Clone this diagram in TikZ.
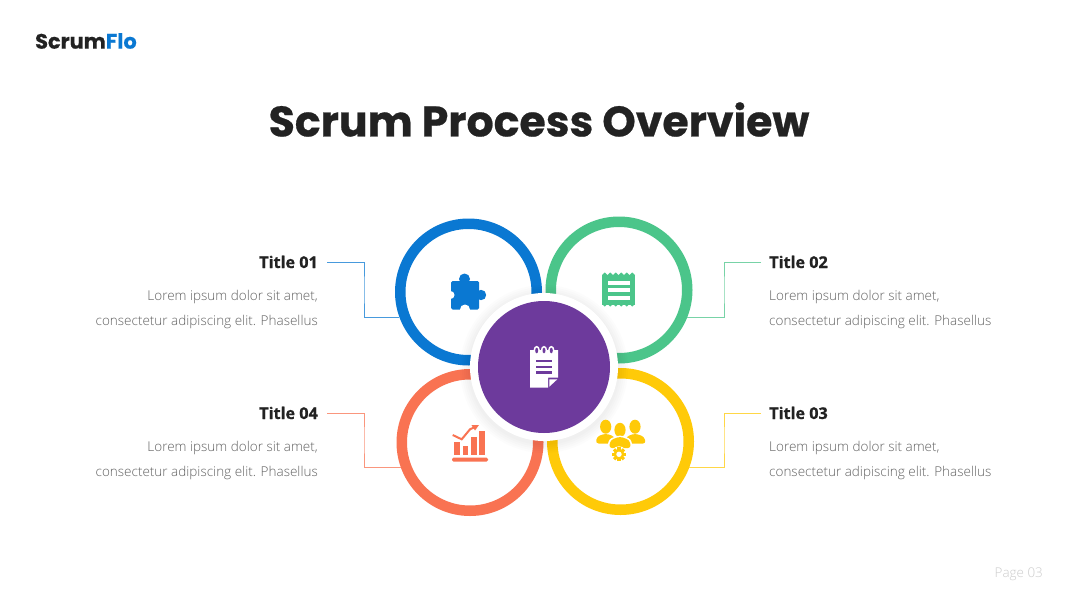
\documentclass[tikz,border=0pt]{standalone}
\usepackage{fontspec}
\setmainfont{Open Sans Light}
\newfontfamily\tfont{Open Sans}[BoldFeatures={FakeBold=0.8}]
\newfontfamily\headfont{Poppins}[BoldFeatures={FakeBold=0.6}]
\usetikzlibrary{positioning}
\definecolor{cblue}{HTML}{0A78D2}
\definecolor{cgreen}{HTML}{4BC58A}
\definecolor{cyellow}{HTML}{FFCA08}
\definecolor{corange}{HTML}{F97352}
\definecolor{cpurple}{HTML}{6D3A9C}
\definecolor{cdark}{HTML}{222222}
\tikzstyle{ring}=[circle,draw,line width=10.5pt,minimum size=136.5pt,inner sep=0pt]
\tikzstyle{link}=[line width=1pt]
\tikzstyle{tlabel}=[font=\tfont\bfseries\fontsize{16.2}{18}\selectfont,text=cdark,inner ysep=0pt,text height=12pt,text depth=0pt]
\tikzstyle{blabel}=[font=\fontsize{13.5}{25}\selectfont,text=black!62,inner sep=0pt]
\begin{document}
\begin{tikzpicture}[x=1pt,y=-1pt]
\useasboundingbox (0,0) rectangle (1080,608);
\fill[white] (0,0) rectangle (1080,608);
\node[font=\headfont\bfseries\fontsize{20.9}{22}\selectfont,text=cdark,anchor=west,inner sep=0pt] (logo) at (35,41) {Scrum\textcolor{cblue}{Flo}};
\node[font=\headfont\bfseries\fontsize{42.6}{48}\selectfont,text=cdark] (head) at (539,119.5) {Scrum Process Overview};
\node[font=\fontsize{13.4}{16}\selectfont,text=black!20,anchor=east,inner sep=0pt] (page) at (1043,574) {Page 03};

\node[ring,draw=cblue] (R1) at (468.5,292) {};
\node[ring,draw=cgreen] (R2) at (619,290) {};
\node[ring,draw=cyellow] (R3) at (620.5,441.5) {};
\node[ring,draw=corange] (R4) at (470,442.5) {};

\node[tlabel,anchor=east,inner xsep=9pt] (T1) at (327,262) {Title 01};
\node[tlabel,anchor=west,inner xsep=8pt] (T2) at (761,262) {Title 02};
\node[tlabel,anchor=west,inner xsep=8pt] (T3) at (761,413) {Title 03};
\node[tlabel,anchor=east,inner xsep=9pt] (T4) at (327,413) {Title 04};
\node[blabel,anchor=east,align=right] (B1) at (318,309) {Lorem ipsum dolor sit amet,\\consectetur adipiscing elit. Phasellus};
\node[blabel,anchor=west,align=left] (B2) at (769,309) {Lorem ipsum dolor sit amet,\\consectetur adipiscing elit. Phasellus};
\node[blabel,anchor=west,align=left] (B3) at (769,460) {Lorem ipsum dolor sit amet,\\consectetur adipiscing elit. Phasellus};
\node[blabel,anchor=east,align=right] (B4) at (318,460) {Lorem ipsum dolor sit amet,\\consectetur adipiscing elit. Phasellus};

\coordinate (E1) at (364,290);
\coordinate (E2) at (724,290);
\coordinate (E3) at (724,440);
\coordinate (E4) at (364,440);
\draw[link,cblue!75] (T1.east) -| (E1) |- (R1.200);
\draw[link,cgreen!75] (T2.west) -| (E2) |- (R2.338);
\draw[link,cyellow!75] (T3.west) -| (E3) |- (R3.339);
\draw[link,corange!75] (T4.east) -| (E4) |- (R4.200);

\foreach \r in {84,82,80,78,76}
  \fill[black,opacity=0.012] (544,369) circle (\r);
\node[circle,fill=white,minimum size=148pt,inner sep=0pt] (Cw) at (544,367) {};
\node[circle,fill=cpurple,minimum size=132pt,inner sep=0pt] (C) at (544,367) {};

% puzzle
\fill[cblue,rounded corners=1.5pt] (451,281) rectangle (479,309.5);
\fill[cblue] (464.5,279) circle (5.5) (481,295) circle (5.2);
\fill[white] (450.5,295) circle (4) (465,309.5) circle (5);

% receipt
\fill[cgreen] (602,274.5) rectangle (635,304.5);
\foreach \i in {0,...,5} {
  \fill[cgreen] (602+5.5*\i,275) -- (604.75+5.5*\i,272.5) -- (607.5+5.5*\i,275) -- cycle;
  \fill[cgreen] (602+5.5*\i,304) -- (604.75+5.5*\i,306.5) -- (607.5+5.5*\i,304) -- cycle;
}
\foreach \y in {281,288,296}
  \fill[white] (608,\y) rectangle (630,\y+4);

% notepad
\fill[white] (530,350) -- (558,350) -- (558,377.5) -- (548,377.5) -- (548,387.5) -- (530,387.5) -- cycle;
\fill[white] (549.3,379.3) -- (557.3,379.3) -- (549.3,386.7) -- cycle;
\foreach \x in {536.7,544,551.3} {
  \fill[white] (\x,350.5) ellipse (3.2 and 4.7);
  \fill[cpurple] (\x,350.5) ellipse (1.5 and 2.8);
}
\foreach \y in {360.7,366.7,372.3}
  \fill[cpurple] (536,\y-1.2) rectangle (552,\y+1.2);

% chart
\fill[corange,rounded corners=1.5pt] (452,457.5) rectangle (488,461.5);
\fill[corange] (454,442.3) rectangle (460,454.7);
\fill[corange] (463,445.7) rectangle (468,454.7);
\fill[corange] (471,436.7) rectangle (477,454.7);
\fill[corange] (479,430.7) rectangle (485,454.7);
\draw[corange,line width=2pt] (452.7,435) -- (461.7,439.3) -- (470,429.3) -- (475,427);
\fill[corange] (478.8,425.2) -- (471.5,425.2) -- (475,430.5) -- cycle;

% people
\fill[cyellow] (605.7,426.7) ellipse (5.6 and 7);
\fill[cyellow] (635,426.7) ellipse (5.6 and 7);
\fill[cyellow,rounded corners=3pt] (595.7,443.5) -- (597,436.5) -- (605.7,433.5) -- (614.5,436.5) -- (616,443.5) -- cycle;
\fill[cyellow,rounded corners=3pt] (625,443.5) -- (626.5,436.5) -- (635,433.5) -- (644,436.5) -- (646,443.5) -- cycle;
\fill[white] (620,430) ellipse (6.8 and 8.4);
\fill[cyellow] (620,430) ellipse (5.6 and 7.2);
\fill[white,rounded corners=3pt] (607,449.5) -- (609,439) -- (620,435) -- (631,439) -- (633,449.5) -- cycle;
\fill[cyellow,rounded corners=3pt] (609,448) -- (610.5,440) -- (620,436.5) -- (629.5,440) -- (631,448) -- cycle;
\fill[white] (619,454.3) circle (8);
\foreach \a in {0,45,...,315}
  \fill[cyellow,rotate around={\a:(619,454.3)}] (617.4,447.3) rectangle (620.6,450);
\fill[cyellow] (619,454.3) circle (5.4);
\fill[white] (619,454.3) circle (2.7);
\end{tikzpicture}
\end{document}
